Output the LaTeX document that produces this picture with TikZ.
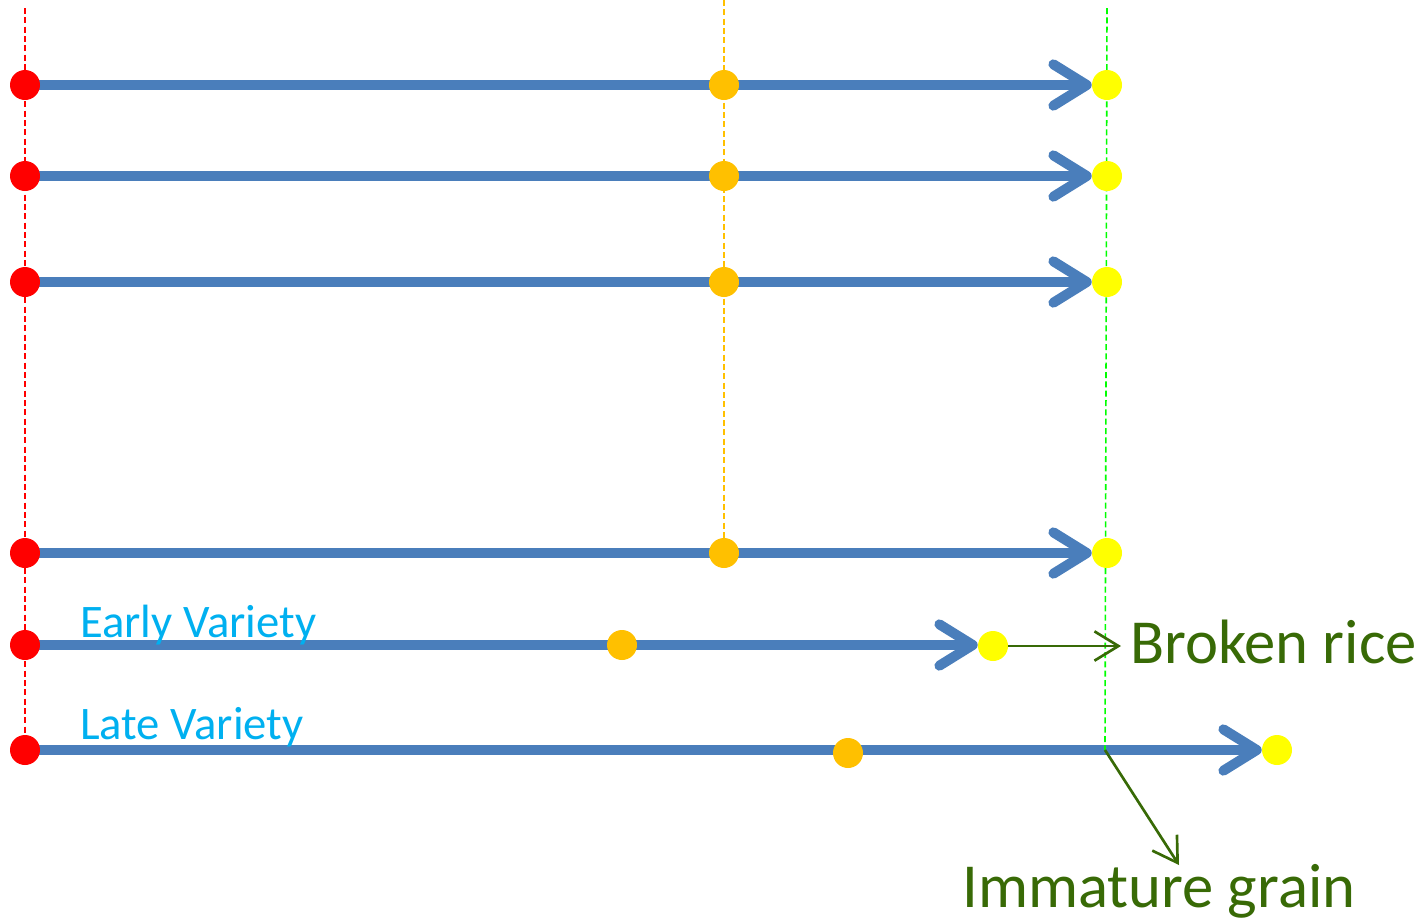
\documentclass[tikz,border=0pt]{standalone}
\usepackage{fontspec}
\setmainfont{Carlito}
\usetikzlibrary{arrows.meta,backgrounds}
\definecolor{flow}{HTML}{4A7EBB}
\definecolor{sow}{HTML}{FF0000}
\definecolor{flower}{HTML}{FFC000}
\definecolor{ripe}{HTML}{FFFF00}
\definecolor{harvest}{HTML}{00FF00}
\definecolor{note}{HTML}{386A06}
\definecolor{variety}{HTML}{00B0F0}
\tikzset{
  dot/.style={circle,fill=#1,inner sep=0pt,minimum size=22.5pt},
  guide/.style={draw=#1,line width=1.2pt,dash pattern=on 4.5pt off 2.5pt},
  flowline/.style={flow,line width=7.5pt,
    -{Straight Barb[length=25pt,width=31pt,line cap=round,round]}},
  noteline/.style={note,line width=2pt,
    -{Straight Barb[length=18pt,width=22pt]}},
  varlabel/.style={anchor=base west,inner sep=0pt,text=variety,font=\fontsize{35}{40}\selectfont},
  notelabel/.style={anchor=base west,inner sep=0pt,text=note,font=\fontsize{47}{54}\selectfont}
}
\begin{document}
\begin{tikzpicture}[x=0.75pt,y=-0.75pt]
\useasboundingbox (0,0) rectangle (1422,922);

% stage guides
\coordinate (sowtop) at (25,8);
\coordinate (sowbot) at (25,750);
\coordinate (flwtop) at (724,0);
\coordinate (flwbot) at (724,553);
\coordinate (hvtop) at (1107,8);
\coordinate (hvbot) at (1105,750);

% stage dots, rows with the common schedule
\foreach \i/\y in {1/85,2/176,3/282,4/553}{
  \node[dot=sow] (s\i) at (25,\y) {};
  \node[dot=flower] (f\i) at (724,\y) {};
  \node[dot=ripe] (r\i) at (1107,\y) {};
}
% early variety
\node[dot=sow] (se) at (25,645) {};
\node[dot=flower] (fe) at (622,645) {};
\node[dot=ripe] (re) at (993,646) {};
% late variety
\node[dot=sow] (sl) at (25,750) {};
\node[dot=flower] (fl) at (848,753) {};
\node[dot=ripe] (rl) at (1277,750) {};

\node[varlabel] (early) at (80,637) {Early Variety};
\node[varlabel] (late) at (80,739) {Late Variety};
\node[notelabel] (broken) at (1130,663) {Broken rice};
\node[notelabel] (immature) at (962,907) {Immature grain};
\coordinate (brokentip) at (1121,646);
\coordinate (immtip) at (1179,865);

\begin{scope}[on background layer]
  \draw[guide=sow] (sowtop) -- (sowbot);
  \draw[guide=flower] (flwtop) -- (flwbot);
  \foreach \i in {1,2,3,4}{
    \draw[flowline] (s\i.center) -- (r\i);
  }
  \draw[flowline] (se.center) -- (re.west |- se.center);
  \draw[flowline] (sl.center) -- (rl);
  \draw[guide=harvest] (hvtop) -- (hvbot);
\end{scope}

\draw[noteline] (re) -- (brokentip);
\draw[noteline] (hvbot) -- (immtip);
\end{tikzpicture}
\end{document}
